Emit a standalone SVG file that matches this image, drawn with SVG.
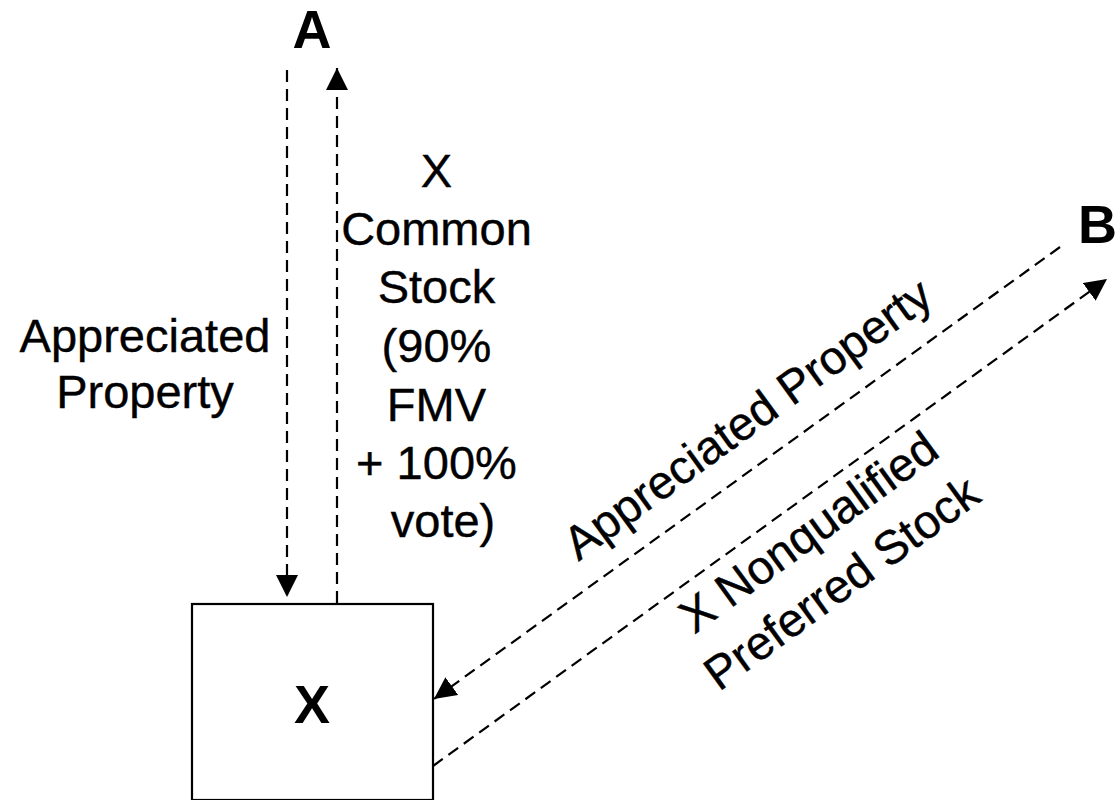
<svg xmlns="http://www.w3.org/2000/svg" width="1118" height="800" viewBox="0 0 1118 800">
<style>
.lbl{font-family:"Liberation Sans",Arial,sans-serif;font-size:47px;fill:#000;stroke:#000;stroke-width:0.4}
.big{font-family:"Liberation Sans",Arial,sans-serif;font-size:54px;font-weight:bold;fill:#000}
.flow{stroke:#000;stroke-width:2.2;fill:none;stroke-dasharray:12 7}
.box{stroke:#000;stroke-width:2.2;fill:#fff}
</style>
<defs>
<marker id="ah" markerUnits="userSpaceOnUse" markerWidth="22" markerHeight="22" viewBox="0 0 20 20" refX="20" refY="10" orient="auto">
<path d="M0,0 L20,10 L0,20 Z" fill="#000"/>
</marker>
</defs>
<rect width="1118" height="800" fill="#fff"/>
<g id="connectors">
<line class="flow" x1="287" y1="70" x2="287" y2="597" marker-end="url(#ah)"/>
<line class="flow" x1="337" y1="603" x2="337" y2="68" marker-end="url(#ah)"/>
<line class="flow" x1="1060" y1="247" x2="434" y2="699" marker-end="url(#ah)"/>
<line class="flow" x1="433" y1="766" x2="1107" y2="279" marker-end="url(#ah)"/>
</g>
<g id="node-A"><text class="big" x="312" y="48" text-anchor="middle">A</text></g>
<g id="node-B"><text class="big" x="1078" y="243">B</text></g>
<g id="node-X">
<rect class="box" x="192" y="604" width="241" height="196"/>
<text class="big" x="312" y="723" text-anchor="middle">X</text>
</g>
<g id="labels">
<text class="lbl" text-anchor="middle"><tspan x="145" y="352">Appreciated</tspan><tspan x="145" y="408">Property</tspan></text>
<text class="lbl" text-anchor="middle">
<tspan x="443" y="187">X</tspan>
<tspan x="443" y="245">Common</tspan>
<tspan x="443" y="303">Stock</tspan>
<tspan x="443" y="362">(90%</tspan>
<tspan x="443" y="421">FMV</tspan>
<tspan x="443" y="479">+ 100%</tspan>
<tspan x="443" y="537">vote)</tspan>
</text>
<text class="lbl" text-anchor="middle" transform="translate(757,432) rotate(-36)">Appreciated Property</text>
<text class="lbl" text-anchor="middle" transform="translate(818,545) rotate(-36)">X Nonqualified</text>
<text class="lbl" text-anchor="middle" transform="translate(851,596) rotate(-36)">Preferred Stock</text>
</g>
</svg>
